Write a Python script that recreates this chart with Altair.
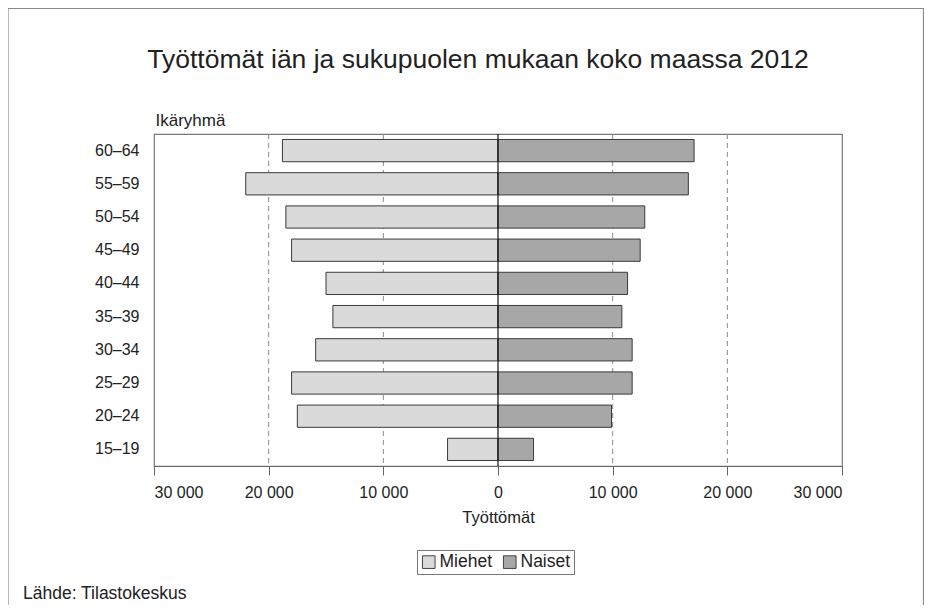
import altair as alt
import pandas as pd

ages = ["15–19", "20–24", "25–29", "30–34", "35–39", "40–44", "45–49", "50–54", "55–59", "60–64"]
miehet = [4400, 17500, 18000, 15900, 14400, 15000, 18000, 18500, 22000, 18800]
naiset = [3100, 9900, 11700, 11700, 10800, 11300, 12400, 12800, 16600, 17100]
sexes = ["Miehet", "Naiset"]
tick_vals = [-30000, -20000, -10000, 0, 10000, 20000, 30000]
grid_vals = [-20000, -10000, 10000, 20000]
title_text = "Työttömät iän ja sukupuolen mukaan koko maassa 2012"
source_text = "Lähde: Tilastokeskus"

rows = []
for a, m, n in zip(ages, miehet, naiset):
    rows.append({"age": a, "sex": "Miehet", "value": -m})
    rows.append({"age": a, "sex": "Naiset", "value": n})
df = pd.DataFrame(rows)
order = list(reversed(ages))

xscale = alt.Scale(domain=[-30000, 30000], nice=False, zero=False)
xaxis = alt.Axis(
    values=tick_vals,
    labelExpr="replace(format(abs(datum.value), ',d'), ',', ' ')",
    title="Työttömät",
    grid=False,
    tickSize=9,
    labelPadding=9,
    labelFontSize=16,
    titleFontSize=16.5,
    titleFontWeight="normal",
    titleBaseline="alphabetic",
    titleY=56,
    titleX=344,
)

grid = alt.Chart(pd.DataFrame({"value": grid_vals})).mark_rule(
    color="#8a8a8a", strokeDash=[5, 4], strokeWidth=1
).encode(x=alt.X("value:Q", scale=xscale, axis=xaxis))

bars = alt.Chart(df).mark_bar(stroke="#3a3a3a", strokeWidth=1).encode(
    x=alt.X("value:Q", scale=xscale, axis=xaxis),
    y=alt.Y(
        "age:N",
        sort=order,
        scale=alt.Scale(paddingInner=0.33, paddingOuter=0.165),
        axis=alt.Axis(
            title="Ikäryhmä",
            titleAngle=0,
            titleAlign="left",
            titleBaseline="alphabetic",
            titleX=1,
            titleY=-9,
            titleFontSize=17,
            titleFontWeight="normal",
            ticks=False,
            domain=False,
            labelPadding=15,
            labelFontSize=16,
        ),
    ),
    color=alt.Color(
        "sex:N",
        scale=alt.Scale(domain=sexes, range=["#dadada", "#a7a7a7"]),
        legend=alt.Legend(
            title=None,
            orient="none",
            legendX=263,
            legendY=416,
            direction="horizontal",
            padding=3,
            strokeColor="#777777",
            fillColor="white",
            labelFontSize=17.5,
            symbolType="square",
            symbolSize=160,
            symbolStrokeColor="#444444",
            symbolStrokeWidth=1,
            columnPadding=8,
            labelOffset=2,
        ),
    ),
)

zero = alt.Chart(pd.DataFrame({"value": [0]})).mark_rule(
    color="#111111", strokeWidth=1.2
).encode(x=alt.X("value:Q", scale=xscale, axis=xaxis))

border = alt.Chart(pd.DataFrame({"t": [0]})).mark_rect(
    filled=False, stroke="#8a8a8a", strokeWidth=1.2
).encode(
    x=alt.value(-146), x2=alt.value(769.5), y=alt.value(-125.5), y2=alt.value(490)
)

title = alt.Chart(pd.DataFrame({"t": [title_text]})).mark_text(
    align="center", baseline="alphabetic", fontSize=26.5, color="#222222", font="Liberation Sans"
).encode(x=alt.value(324), y=alt.value(-66), text="t:N")

source = alt.Chart(pd.DataFrame({"t": [source_text]})).mark_text(
    align="left", baseline="alphabetic", fontSize=17.5, color="#222222", font="Liberation Sans"
).encode(x=alt.value(-131), y=alt.value(465), text="t:N")

chart = (
    alt.layer(grid, bars, zero, border, title, source)
    .properties(
        width=688,
        height=332,
        autosize=alt.AutoSizeParams(type="none"),
        padding={"left": 146, "top": 126, "right": 82, "bottom": 139},
    )
    .configure(font="Liberation Sans")
    .configure_view(stroke="#777777", strokeWidth=1.2)
    .configure_axis(
        domainColor="#666666",
        tickColor="#666666",
        labelColor="#222222",
        titleColor="#222222",
        labelFont="Liberation Sans",
        titleFont="Liberation Sans",
    )
    .configure_legend(labelFont="Liberation Sans", labelColor="#222222")
)

chart.save("out.html", embed_options={"renderer": "svg", "actions": False})
